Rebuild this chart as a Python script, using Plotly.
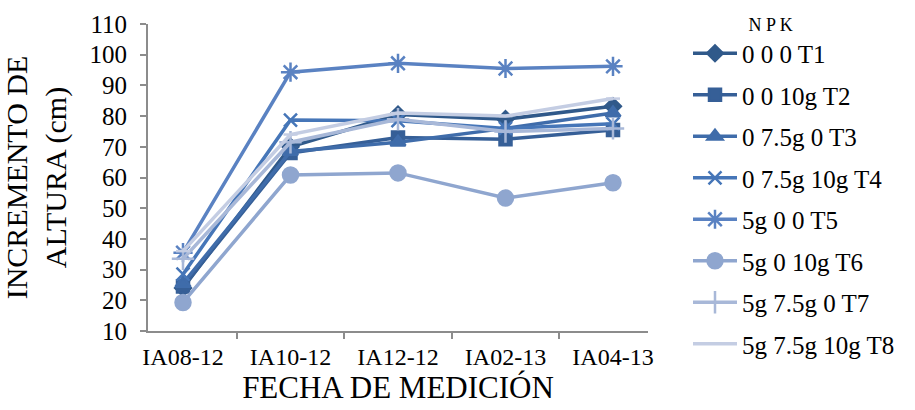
import plotly.graph_objects as go

SERIF = "Liberation Serif"
INK = "black"

# Measurement dates (x categories)
fechas = ["IA08-12", "IA10-12", "IA12-12", "IA02-13", "IA04-13"]

# Height increment (cm) per treatment
t1 = [24.0, 70.0, 80.5, 79.0, 83.2]
t2 = [24.5, 68.0, 73.0, 72.5, 75.5]
t3 = [25.5, 68.5, 71.5, 76.0, 81.0]
t4 = [28.5, 78.7, 78.5, 76.0, 77.5]
t5 = [35.5, 94.3, 97.2, 95.5, 96.2]
t6 = [19.3, 60.8, 61.5, 53.3, 58.3]
t7 = [33.5, 71.5, 79.0, 75.0, 76.0]
t8 = [36.0, 74.0, 81.0, 80.0, 85.7]

nombres = ["0 0 0 T1", "0 0 10g T2", "0 7.5g 0 T3", "0 7.5g 10g T4",
           "5g 0 0 T5", "5g 0 10g T6", "5g 7.5g 0 T7", "5g 7.5g 10g T8"]

series = [t1, t2, t3, t4, t5, t6, t7, t8]
colores = ["#30598A", "#365F97", "#3F6CAA", "#4676B8",
           "#5A82C2", "#8FA6CF", "#A8B8D8", "#C4CDE3"]
simbolos = ["diamond", "square", "triangle-up", "x-thin-open",
            "asterisk-open", "circle", "cross-thin-open", "line-ew-open"]
tamanos = [12, 12, 13, 13, 16, 15, 16, 10]

fig = go.Figure()
for i, (vals, nom, col, sym, sz) in enumerate(zip(series, nombres, colores, simbolos, tamanos)):
    fig.add_trace(go.Scatter(
        x=fechas, y=vals, name=nom, mode="lines+markers",
        legendgroup=f"g{i}",
        line=dict(color=col, width=3.5),
        marker=dict(symbol=sym, size=sz, color=col,
                    line=dict(color=col, width=2.5)),
    ))

fig.update_layout(
    template="none",
    width=915, height=410,
    margin=dict(l=148, r=267, t=24, b=79, autoexpand=False),
    paper_bgcolor="white", plot_bgcolor="white",
    font=dict(family=SERIF, color=INK, size=21),
    showlegend=True,
    legend=dict(
        x=1.08, xanchor="left", y=1.055, yanchor="top",
        title=dict(text="             N P K", font=dict(family=SERIF, size=18, color=INK)),
        font=dict(family=SERIF, size=25, color=INK),
        tracegroupgap=6,
        itemwidth=44,
        maxheight=410,
        bgcolor="rgba(0,0,0,0)",
    ),
    xaxis=dict(
        type="category",
        showgrid=False, zeroline=False,
        showline=True, linecolor="#8C8C8C", linewidth=2,
        ticks="outside", tickson="boundaries", ticklen=6, tickcolor="#8C8C8C", tickwidth=1.5,
        tickfont=dict(family=SERIF, size=24, color=INK),
        ticklabelstandoff=3,
        title=dict(text="FECHA DE MEDICIÓN", font=dict(family=SERIF, size=31, color=INK), standoff=7),
    ),
    yaxis=dict(
        range=[10, 110], dtick=10, tick0=10,
        showgrid=False, zeroline=False,
        showline=True, linecolor="#8C8C8C", linewidth=2,
        ticks="outside", ticklen=6, tickcolor="#8C8C8C", tickwidth=1.5,
        tickfont=dict(family=SERIF, size=25, color=INK),
        ticklabelstandoff=8,
        title=dict(text="INCREMENTO DE<br>ALTURA (cm)", font=dict(family=SERIF, size=30, color=INK), standoff=20),
    ),
)

fig.write_html("out.html")
